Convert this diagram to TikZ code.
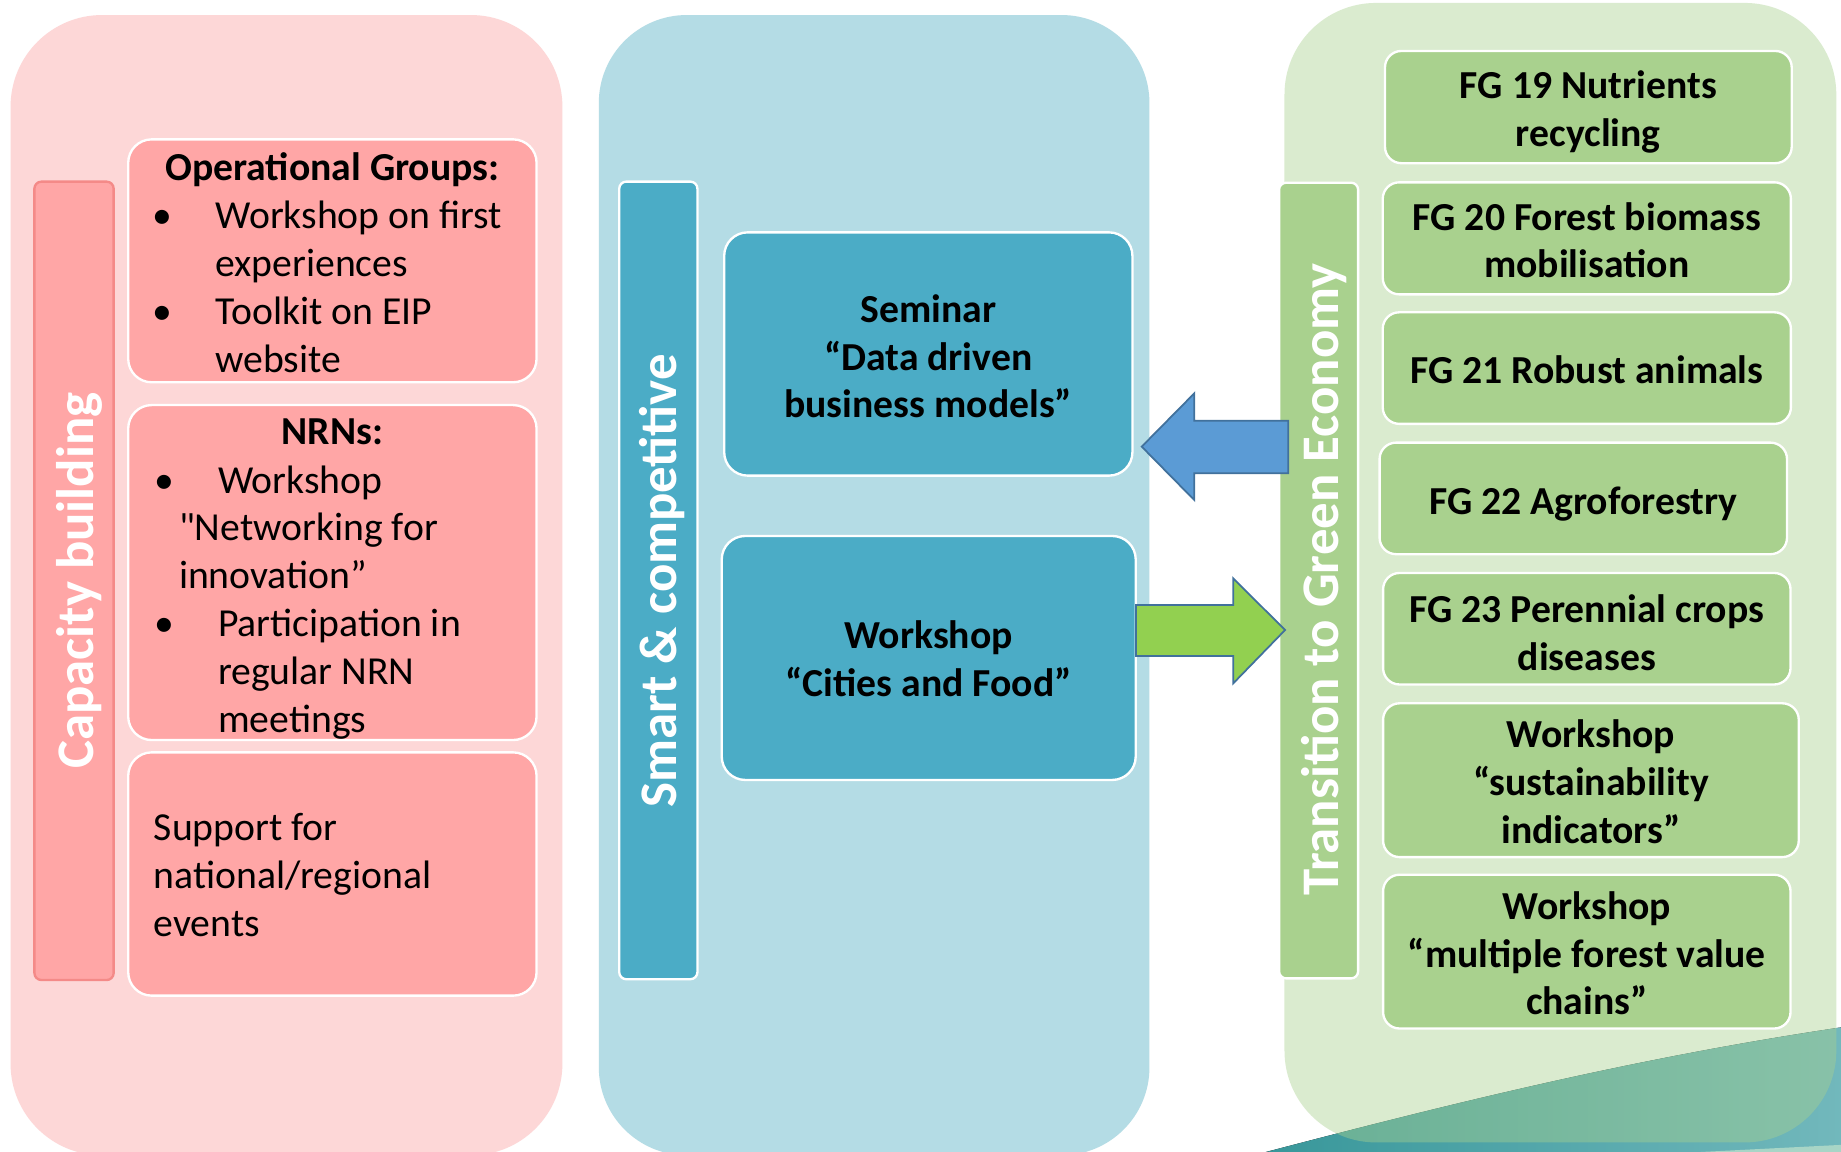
\documentclass[tikz,border=0pt]{standalone}
\usepackage{fontspec}
\setmainfont{Carlito}
\newfontfamily\qfont{Carlito}[Ligatures=TeXOff]
\definecolor{panelpink}{HTML}{FDD7D7}
\definecolor{boxpink}{HTML}{FFA6A6}
\definecolor{barpinkline}{HTML}{F48A88}
\definecolor{panelblue}{HTML}{B4DCE5}
\definecolor{tealbox}{HTML}{4BACC6}
\definecolor{boxgreen}{HTML}{A9D18E}
\definecolor{arrowblue}{HTML}{5B9BD5}
\definecolor{arrowgreen}{HTML}{92D050}
\definecolor{arrowline}{HTML}{41719C}
\definecolor{wedgeL}{HTML}{38979A}
\definecolor{wedgeR}{HTML}{72B8BC}
\definecolor{stripcol}{HTML}{A8D5C6}
\newcommand\bodyfont{\fontsize{33.8}{40.7}\selectfont}
\newcommand\barfont{\fontsize{45}{50}\selectfont\bfseries}
\begin{document}
\begin{tikzpicture}[x=1pt,y=-1pt,
  every node/.style={inner sep=0pt,outer sep=0pt},
  pbox/.style={draw=white, line width=2pt, fill=boxpink, rounded corners=20pt},
  tbox/.style={draw=white, line width=2pt, fill=tealbox, rounded corners=20pt},
  gbox/.style={draw=white, line width=2pt, fill=boxgreen, rounded corners=14pt},
  capbar/.style={draw=barpinkline, line width=2pt, fill=boxpink, rounded corners=6pt},
  wbar/.style={draw=white, line width=2pt, rounded corners=6pt},
  lbl/.style={rotate=90, anchor=base, text=white, font=\barfont},
  blk/.style={draw=arrowline, line width=1.5pt, line join=miter},
  txt/.style={font=\bodyfont},
  btxt/.style={font=\bodyfont\bfseries, anchor=base}]
\useasboundingbox (0,0) rectangle (1568,981);
\clip (0,0) rectangle (1568,981);
\fill[white] (0,0) rectangle (1568,981);

% panels
\fill[panelpink, rounded corners=78pt] (9,12.8) rectangle (479,984);
\fill[panelblue, rounded corners=75pt] (510,12.8) rectangle (979,984);

% teal wedge (behind the translucent green panel)
\fill[left color=wedgeL, right color=wedgeR] (1075,982) .. controls (1250,936) and (1400,900) .. (1568,875) -- (1570,982) -- cycle;
\fill[stripcol] (1432,982) -- (1570,975) -- (1570,982) -- cycle;

\fill[boxgreen, opacity=0.42, rounded corners=78pt] (1094,2.5) rectangle (1564,973);

% vertical bars
\node[capbar, minimum width=67.5pt, minimum height=680pt] (capbar) at (63.05,494.7) {};
\node[wbar, fill=tealbox, minimum width=66.6pt, minimum height=679.3pt] (smartbar) at (560.7,494.35) {};
\node[wbar, fill=boxgreen, minimum width=67.3pt, minimum height=677.7pt] (greenbar) at (1123.05,494.45) {};
\node[lbl] (caplbl) at (79.5,494.5) {Capacity building};
\node[lbl] (smartlbl) at (576.5,494.5) {Smart \& competitive};
\node[lbl] (greenlbl) at (1140,493.4) {Transition to Green Economy};

% pink boxes
\node[pbox, minimum width=347.8pt, minimum height=206.9pt] (og) at (283.1,222.15) {};
\node[pbox, minimum width=347.8pt, minimum height=285.3pt] (nrn) at (283.1,487.65) {};
\node[pbox, minimum width=347.8pt, minimum height=207.2pt] (sup) at (283.1,744.4) {};

% teal boxes
\node[tbox, minimum width=347.7pt, minimum height=207.2pt] (sem) at (790.65,301.5) {};
\node[tbox, minimum width=352.6pt, minimum height=207.8pt] (ws) at (791,560.4) {};

% green boxes
\node[gbox, minimum width=346.4pt, minimum height=95.6pt] (fg19) at (1352.8,91.2) {};
\node[gbox, minimum width=347.6pt, minimum height=95.4pt] (fg20) at (1351.5,203) {};
\node[gbox, minimum width=347.6pt, minimum height=95pt] (fg21) at (1351.5,313.5) {};
\node[gbox, minimum width=347pt, minimum height=95pt] (fg22) at (1348.5,424.5) {};
\node[gbox, minimum width=347pt, minimum height=95pt] (fg23) at (1351.5,535.5) {};
\node[gbox, minimum width=354pt, minimum height=131pt] (ws1) at (1355,664.5) {};
\node[gbox, minimum width=347pt, minimum height=131pt] (ws2) at (1351.5,810.5) {};

% block arrows
\draw[blk, fill=arrowblue] (972.4,380.4) -- (1017.2,335) -- (1017.2,358.3) -- (1097.3,358.3)
  -- (1097.3,403.1) -- (1017.2,403.1) -- (1017.2,425.9) -- cycle;
\draw[blk, fill=arrowgreen] (967.6,515.3) -- (1050.4,515.3) -- (1050.4,492.6) -- (1094.5,536.6)
  -- (1050.4,582) -- (1050.4,558.7) -- (967.6,558.7) -- cycle;

% texts: pink boxes
\node[btxt] (ogh) at (283.1,154) {Operational Groups:};
\node[txt, anchor=base west] (ogt) at (130,195) {\parbox[t]{330pt}{%
\makebox[53.5pt][l]{\textbullet}Workshop on first\\
\hspace*{53.5pt}experiences\\
\makebox[53.5pt][l]{\textbullet}Toolkit on EIP\\
\hspace*{53.5pt}website}};
\node[btxt] (nrnh) at (283.1,379) {NRNs:};
\node[txt, anchor=base west] (nrnt) at (132,420) {\parbox[t]{320pt}{%
\makebox[53.8pt][l]{\textbullet}Workshop\\
\hspace*{20.5pt}{\qfont\char34}Networking for\\
\hspace*{20.5pt}innovation”\\
\makebox[53.8pt][l]{\textbullet}Participation in\\
\hspace*{53.8pt}regular NRN\\
\hspace*{53.8pt}meetings}};
\node[txt, anchor=base west] (supt) at (131,716) {\parbox[t]{320pt}{%
Support for\\national/regional\\events}};

% texts: teal boxes
\node[btxt] (semt) at (790.6,274.6) {\parbox[t]{340pt}{\centering Seminar\\“Data driven\\business models”}};
\node[btxt] (wst) at (791,552.6) {\parbox[t]{340pt}{\centering Workshop\\“Cities and Food”}};

% texts: green boxes
\node[btxt] (fg19t) at (1352.8,84.3) {\parbox[t]{340pt}{\centering FG 19 Nutrients\\recycling}};
\node[btxt] (fg20t) at (1351.5,195.9) {\parbox[t]{340pt}{\centering FG 20 Forest biomass\\mobilisation}};
\node[btxt] (fg21t) at (1351.5,327) {FG 21 Robust animals};
\node[btxt] (fg22t) at (1348.5,438) {FG 22 Agroforestry};
\node[btxt] (fg23t) at (1351.5,530) {\parbox[t]{340pt}{\centering FG 23 Perennial crops\\diseases}};
\node[btxt] (ws1t) at (1355,637) {\parbox[t]{340pt}{\centering Workshop\\“sustainability\\indicators”}};
\node[btxt] (ws2t) at (1351.5,783) {\parbox[t]{340pt}{\centering Workshop\\“multiple forest value\\chains”}};
\end{tikzpicture}
\end{document}
